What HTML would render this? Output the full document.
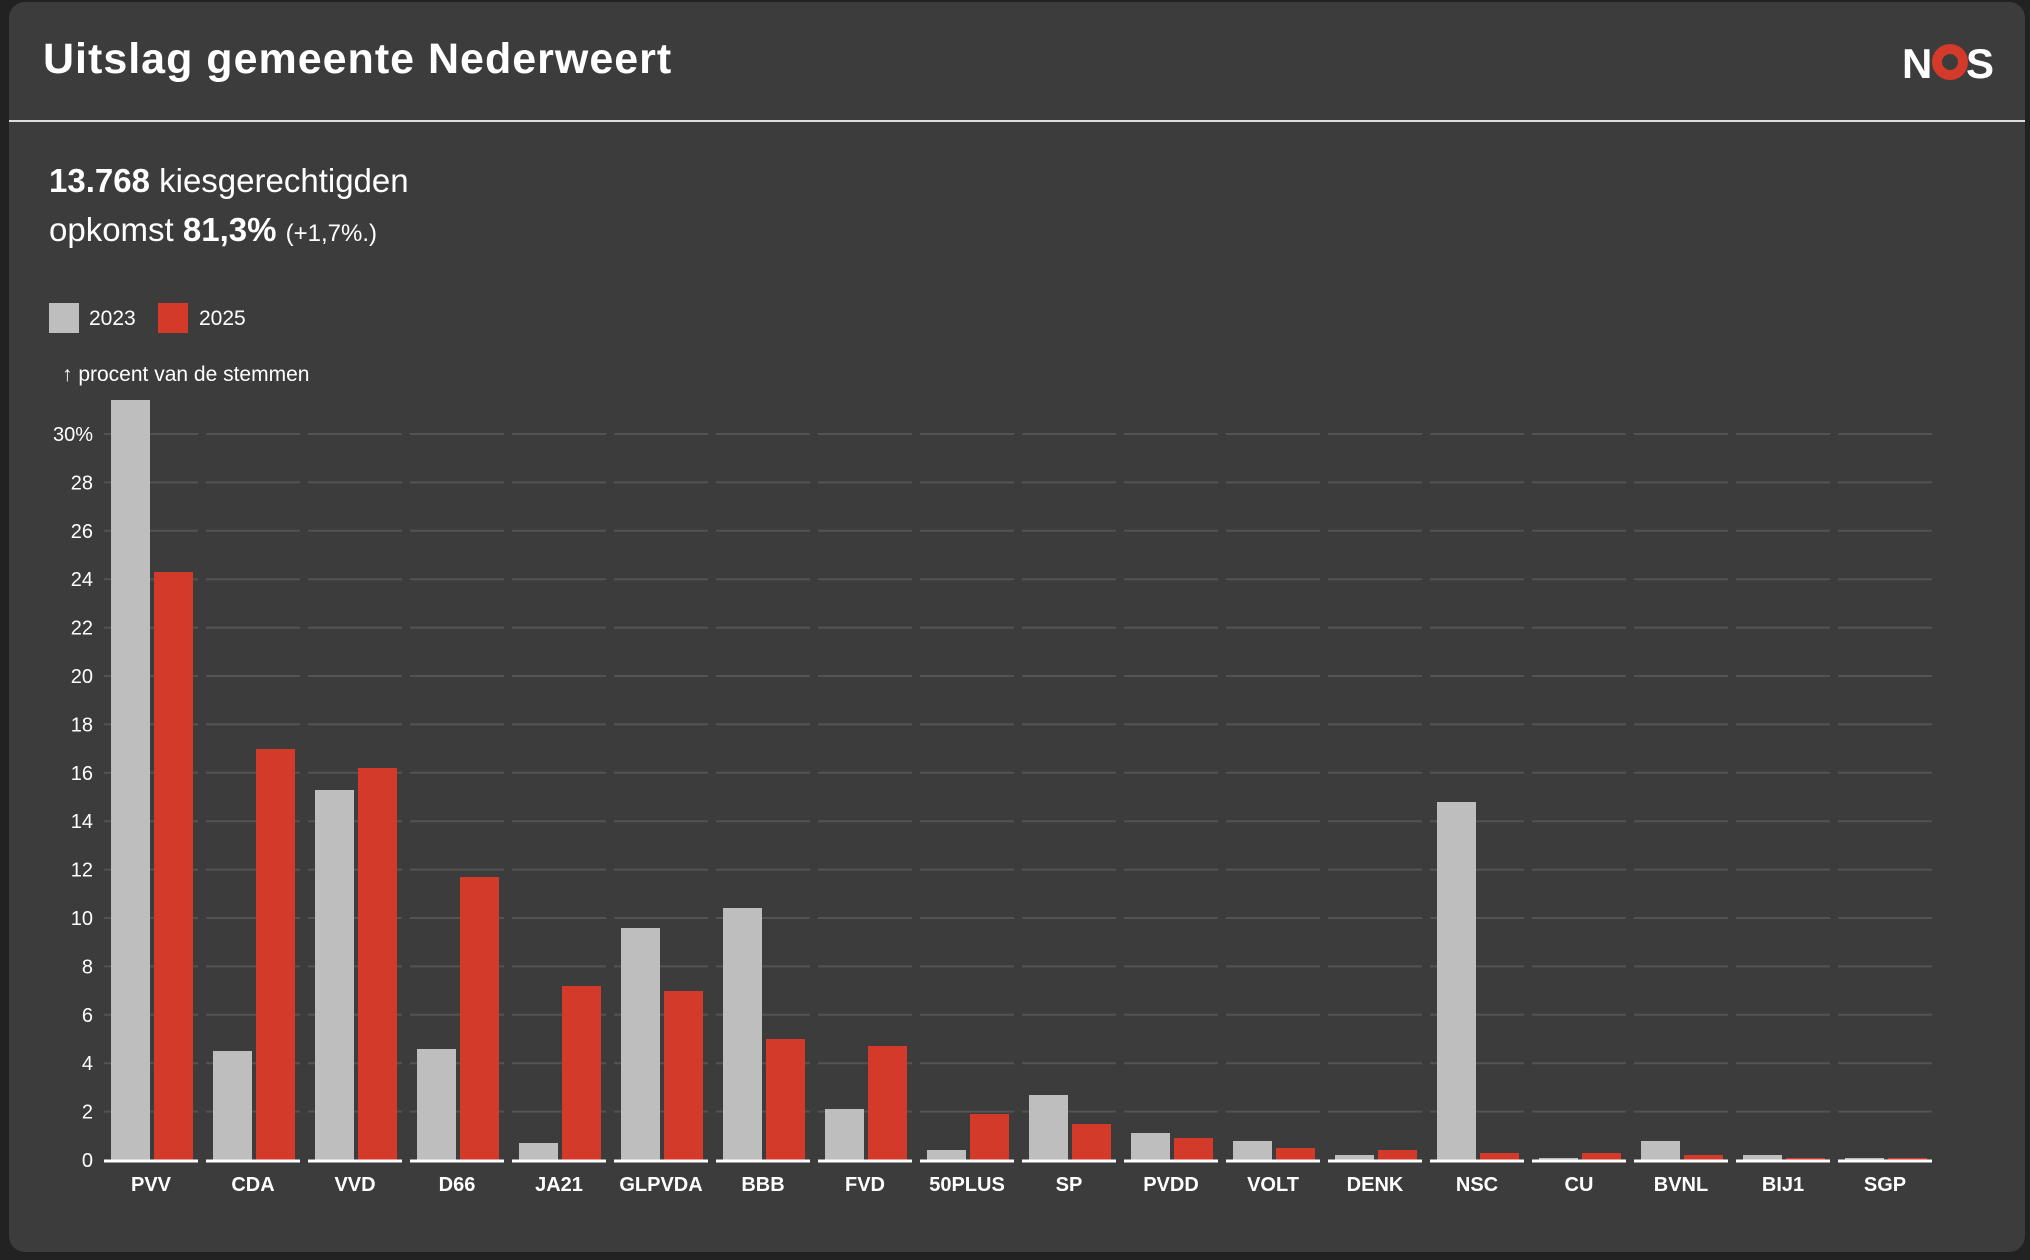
<!DOCTYPE html>
<html><head><meta charset="utf-8"><style>
html,body{margin:0;padding:0;background:#222;}
svg{display:block;font-family:"Liberation Sans",sans-serif;}
</style></head><body>
<svg width="2030" height="1260" viewBox="0 0 2030 1260">
<rect x="0" y="0" width="2030" height="1260" fill="#222"/>
<rect x="9" y="2" width="2016" height="1250" rx="16" fill="#3c3c3c"/>
<text x="43" y="73" font-size="43" font-weight="bold" fill="#fff" letter-spacing="1">Uitslag gemeente Nederweert</text>
<text x="1902" y="78" font-size="42" font-weight="bold" fill="#fff">N</text>
<circle cx="1950" cy="62" r="13" fill="none" stroke="#d43a2a" stroke-width="10"/>
<text x="1966" y="78" font-size="42" font-weight="bold" fill="#fff">S</text>
<rect x="9" y="120" width="2016" height="2" fill="#ddd"/>
<text x="49" y="192" font-size="33" fill="#fff"><tspan font-weight="bold">13.768</tspan> kiesgerechtigden</text>
<text x="49" y="241" font-size="33" fill="#fff">opkomst <tspan font-weight="bold">81,3%</tspan> <tspan font-size="24">(+1,7%.)</tspan></text>
<rect x="49" y="303" width="30" height="30" fill="#bebebe"/>
<text x="89" y="325" font-size="21" fill="#fff">2023</text>
<rect x="158" y="303" width="30" height="30" fill="#d43a2a"/>
<text x="199" y="325" font-size="21" fill="#fff">2025</text>
<text x="62" y="381" font-size="21" fill="#fff">↑ procent van de stemmen</text>
<g stroke="#535353" stroke-width="2" stroke-dasharray="94 8">
<line x1="104" x2="1932" y1="1111.6" y2="1111.6"/><line x1="104" x2="1932" y1="1063.2" y2="1063.2"/>
<line x1="104" x2="1932" y1="1014.8" y2="1014.8"/><line x1="104" x2="1932" y1="966.4" y2="966.4"/>
<line x1="104" x2="1932" y1="918" y2="918"/><line x1="104" x2="1932" y1="869.6" y2="869.6"/>
<line x1="104" x2="1932" y1="821.2" y2="821.2"/><line x1="104" x2="1932" y1="772.8" y2="772.8"/>
<line x1="104" x2="1932" y1="724.4" y2="724.4"/><line x1="104" x2="1932" y1="676" y2="676"/>
<line x1="104" x2="1932" y1="627.6" y2="627.6"/><line x1="104" x2="1932" y1="579.2" y2="579.2"/>
<line x1="104" x2="1932" y1="530.8" y2="530.8"/><line x1="104" x2="1932" y1="482.4" y2="482.4"/>
<line x1="104" x2="1932" y1="434" y2="434"/>
</g>
<g font-size="20" fill="#fff" text-anchor="end">
<text x="93" y="1167">0</text><text x="93" y="1118.6">2</text><text x="93" y="1070.2">4</text>
<text x="93" y="1021.8">6</text><text x="93" y="973.4">8</text><text x="93" y="925">10</text>
<text x="93" y="876.6">12</text><text x="93" y="828.2">14</text><text x="93" y="779.8">16</text>
<text x="93" y="731.4">18</text><text x="93" y="683">20</text><text x="93" y="634.6">22</text>
<text x="93" y="586.2">24</text><text x="93" y="537.8">26</text><text x="93" y="489.4">28</text>
<text x="93" y="441">30%</text>
</g>
<g fill="#bebebe">
<rect x="111" y="400" width="39" height="760"/>
<rect x="213" y="1051" width="39" height="109"/>
<rect x="315" y="790" width="39" height="370"/>
<rect x="417" y="1049" width="39" height="111"/>
<rect x="519" y="1143" width="39" height="17"/>
<rect x="621" y="928" width="39" height="232"/>
<rect x="723" y="908" width="39" height="252"/>
<rect x="825" y="1109" width="39" height="51"/>
<rect x="927" y="1150" width="39" height="10"/>
<rect x="1029" y="1095" width="39" height="65"/>
<rect x="1131" y="1133" width="39" height="27"/>
<rect x="1233" y="1141" width="39" height="19"/>
<rect x="1335" y="1155" width="39" height="5"/>
<rect x="1437" y="802" width="39" height="358"/>
<rect x="1539" y="1158" width="39" height="2"/>
<rect x="1641" y="1141" width="39" height="19"/>
<rect x="1743" y="1155" width="39" height="5"/>
<rect x="1845" y="1158" width="39" height="2"/>
</g>
<g fill="#d43a2a">
<rect x="154" y="572" width="39" height="588"/>
<rect x="256" y="749" width="39" height="411"/>
<rect x="358" y="768" width="39" height="392"/>
<rect x="460" y="877" width="39" height="283"/>
<rect x="562" y="986" width="39" height="174"/>
<rect x="664" y="991" width="39" height="169"/>
<rect x="766" y="1039" width="39" height="121"/>
<rect x="868" y="1046" width="39" height="114"/>
<rect x="970" y="1114" width="39" height="46"/>
<rect x="1072" y="1124" width="39" height="36"/>
<rect x="1174" y="1138" width="39" height="22"/>
<rect x="1276" y="1148" width="39" height="12"/>
<rect x="1378" y="1150" width="39" height="10"/>
<rect x="1480" y="1153" width="39" height="7"/>
<rect x="1582" y="1153" width="39" height="7"/>
<rect x="1684" y="1155" width="39" height="5"/>
<rect x="1786" y="1158" width="39" height="2"/>
<rect x="1888" y="1158" width="39" height="2"/>
</g>
<line x1="104" x2="1932" y1="1161" y2="1161" stroke="#fff" stroke-width="3" stroke-dasharray="94 8"/>
<g font-size="20" font-weight="bold" fill="#fff" text-anchor="middle">
<text x="151" y="1191">PVV</text><text x="253" y="1191">CDA</text><text x="355" y="1191">VVD</text>
<text x="457" y="1191">D66</text><text x="559" y="1191">JA21</text><text x="661" y="1191">GLPVDA</text>
<text x="763" y="1191">BBB</text><text x="865" y="1191">FVD</text><text x="967" y="1191">50PLUS</text>
<text x="1069" y="1191">SP</text><text x="1171" y="1191">PVDD</text><text x="1273" y="1191">VOLT</text>
<text x="1375" y="1191">DENK</text><text x="1477" y="1191">NSC</text><text x="1579" y="1191">CU</text>
<text x="1681" y="1191">BVNL</text><text x="1783" y="1191">BIJ1</text><text x="1885" y="1191">SGP</text>
</g>
</svg>
</body></html>
